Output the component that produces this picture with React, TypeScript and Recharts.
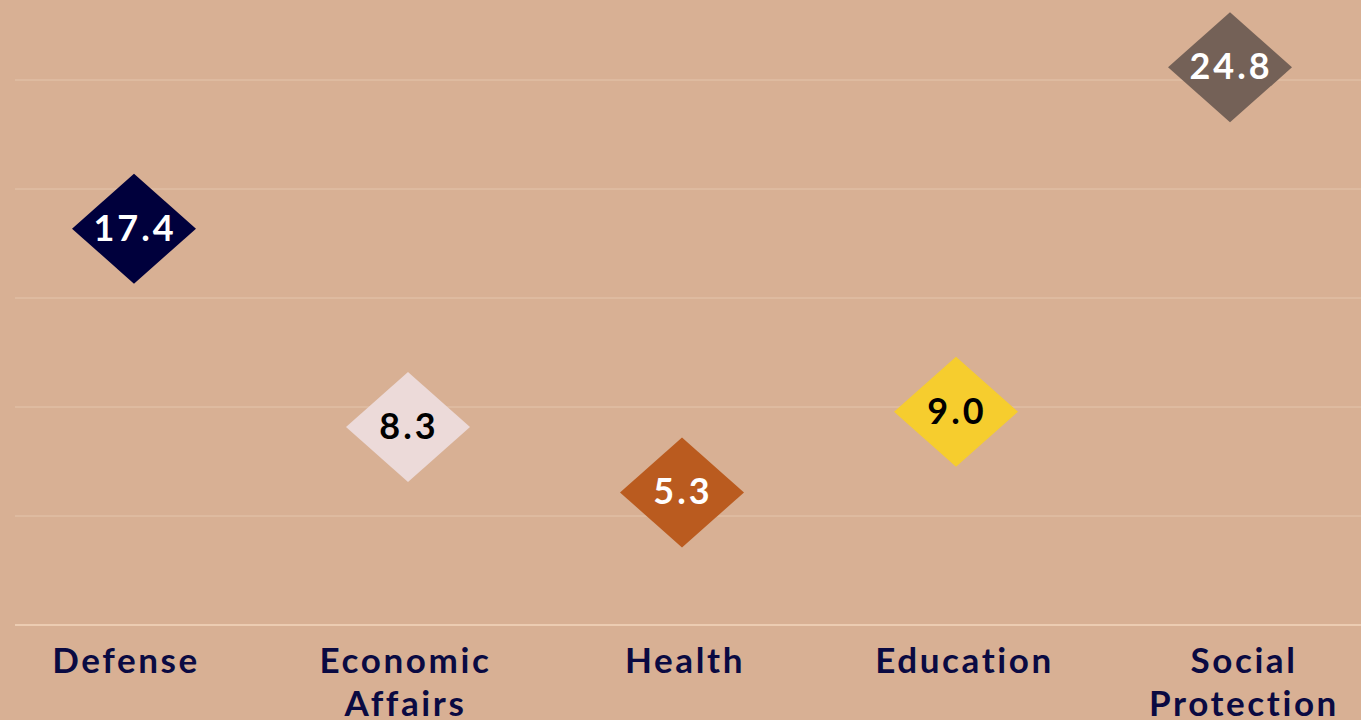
import React from "react";
import { ComposedChart, XAxis, YAxis, CartesianGrid, Scatter } from "recharts";

const categories = ["Defense", "Economic Affairs", "Health", "Education", "Social Protection"];
const values = [17.4, 8.3, 5.3, 9.0, 24.8];
const yTicks = [0, 5, 10, 15, 20, 25];

const fills = ["#00003C", "#ECDAD9", "#BA5B1F", "#F6CD2E", "#746157"];
const textFills = ["#FFFFFF", "#000000", "#FFFFFF", "#000000", "#FFFFFF"];

const data = categories.map((name, i) => ({ name, value: values[i] }));

const BG = "#D8B094";
const FONT = "Lato, 'Noto Sans', sans-serif";

const Diamond = (props: any) => {
  const { cx, cy, index, payload } = props;
  if (cx == null || cy == null) return null;
  const w = 62;
  const h = 55;
  const y0 = cy - 17;
  const d = `M${cx},${y0 - h} L${cx + w},${y0} L${cx},${y0 + h} L${cx - w},${y0} Z`;
  return (
    <g>
      <path d={d} fill={fills[index]} />
      <text
        x={cx + 1}
        y={y0 + 12}
        textAnchor="middle"
        fill={textFills[index]}
        fontFamily={FONT}
        fontWeight={700}
        fontSize={36}
        letterSpacing={3}
      >
        {payload.value.toFixed(1)}
      </text>
    </g>
  );
};

const Tick = (props: any) => {
  const { x, y, payload } = props;
  const words = String(payload.value).split(" ");
  return (
    <text
      x={x}
      y={y}
      textAnchor="middle"
      fill="#0A0A42"
      fontFamily={FONT}
      fontWeight={700}
      fontSize={35}
      letterSpacing={2.6}
    >
      {words.map((w, i) => (
        <tspan key={i} x={x + 1} dy={i === 0 ? 48 : 43}>
          {w}
        </tspan>
      ))}
    </text>
  );
};

export default function App() {
  return (
    <div
      style={{
        position: "absolute",
        left: 0,
        top: 0,
        width: 1361,
        height: 720,
        overflow: "hidden",
        background: BG,
      }}
    >
      <ComposedChart
        width={1400}
        height={720}
        data={data}
        margin={{ top: 80, right: 0, bottom: 0, left: 15 }}
      >
        <CartesianGrid horizontal vertical={false} stroke="#E4C5AC" strokeWidth={1} />
        <YAxis hide domain={[0, 25]} ticks={yTicks} type="number" />
        <XAxis
          xAxisId="labels"
          dataKey="name"
          type="category"
          scale="point"
          padding={{ left: 110, right: 157 }}
          height={95}
          axisLine={{ stroke: "#F0D2B8", strokeWidth: 1.5 }}
          tickLine={false}
          tickSize={0}
          tickMargin={0}
          interval={0}
          tick={<Tick />}
        />
        <XAxis
          xAxisId="pts"
          dataKey="name"
          type="category"
          scale="point"
          padding={{ left: 119, right: 170 }}
          hide
        />
        <Scatter
          xAxisId="pts"
          dataKey="value"
          isAnimationActive={false}
          shape={<Diamond />}
        />
      </ComposedChart>
    </div>
  );
}
